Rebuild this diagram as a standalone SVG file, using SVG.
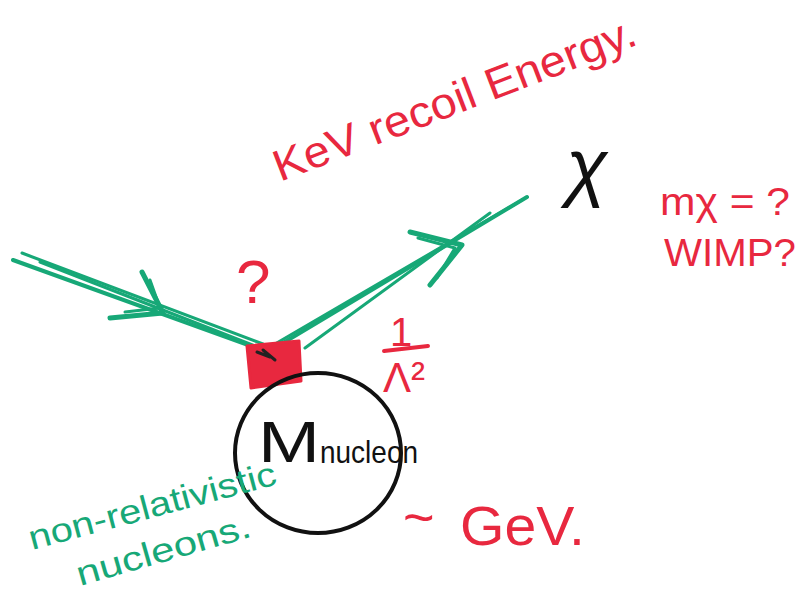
<svg xmlns="http://www.w3.org/2000/svg" width="811" height="594" viewBox="0 0 811 594">
<style>
.g{stroke:#17a877;fill:none;stroke-linecap:round;stroke-linejoin:round}
.r{fill:#e8283f;font-family:"Liberation Sans",sans-serif}
.gt{fill:#17a877;font-family:"Liberation Sans",sans-serif}
.k{fill:#111;font-family:"Liberation Sans",sans-serif}
</style>
<rect width="811" height="594" fill="#fff"/>
<g id="connectors">
<g id="incoming">
<path class="g" stroke-width="4" d="M13 260 L262 350"/>
<path class="g" stroke-width="3" d="M22 253 L263 344"/>
<path class="g" stroke-width="3" d="M40 262 L255 346"/>
<path class="g" stroke-width="5" d="M142 272 L163 313 L110 318"/>
<path class="g" stroke-width="3" d="M150 280 L160 308 L125 312"/>
</g>
<g id="outgoing">
<path class="g" stroke-width="4" d="M268 352 L527 197"/>
<path class="g" stroke-width="3" d="M275 344 L522 200"/>
<path class="g" stroke-width="3" d="M305 348 L490 213"/>
<path class="g" stroke-width="5" d="M410 232 L462 245 L430 285"/>
<path class="g" stroke-width="3" d="M418 238 L455 248 L437 278"/>
</g>
</g>
<g id="vertex">
<path d="M247 346 L299 341 L301 381 L251 388 Z" fill="#e8283f" stroke="#e8283f" stroke-width="3" stroke-linejoin="round"/>
<path d="M257 352 L270 357 M263 350 L275 360" stroke="#222" stroke-width="3" stroke-linecap="round"/>
</g>
<g id="nucleus">
<ellipse cx="318" cy="453" rx="83" ry="80" fill="none" stroke="#111" stroke-width="4"/>
<text class="k" x="258" y="462" font-size="58" textLength="62" lengthAdjust="spacingAndGlyphs">M</text>
<text class="k" x="320" y="463" font-size="32" textLength="98" lengthAdjust="spacingAndGlyphs">nucleon</text>
</g>
<g id="question">
<text class="r" x="236" y="303" font-size="62">?</text>
</g>
<g id="coupling">
<text class="r" x="390" y="346" font-size="40">1</text>
<path d="M384 351 L428 346" stroke="#e8283f" stroke-width="4" stroke-linecap="round"/>
<text class="r" x="383" y="392" font-size="42">Λ²</text>
</g>
<g id="recoil">
<text class="r" x="280" y="182" font-size="44" transform="rotate(-21 280 182)" textLength="385" lengthAdjust="spacingAndGlyphs">KeV recoil Energy.</text>
</g>
<g id="chi">
<text class="k" x="566" y="192" font-size="76" font-style="italic" font-family="'DejaVu Serif',serif">χ</text>
</g>
<g id="mass">
<text class="r" x="660" y="215" font-size="38" textLength="130" lengthAdjust="spacingAndGlyphs">mχ = ?</text>
<text class="r" x="664" y="266" font-size="38" textLength="132" lengthAdjust="spacingAndGlyphs">WIMP?</text>
</g>
<g id="nonrel">
<text class="gt" x="32" y="550" font-size="34" transform="rotate(-15 32 550)" textLength="255" lengthAdjust="spacingAndGlyphs">non-relativistic</text>
<text class="gt" x="80" y="586" font-size="34" transform="rotate(-16 80 586)" textLength="180" lengthAdjust="spacingAndGlyphs">nucleons.</text>
</g>
<g id="gev">
<text class="r" x="403" y="536" font-size="54">~</text>
<text class="r" x="460" y="545" font-size="56" textLength="125" lengthAdjust="spacingAndGlyphs">GeV.</text>
</g>
</svg>
